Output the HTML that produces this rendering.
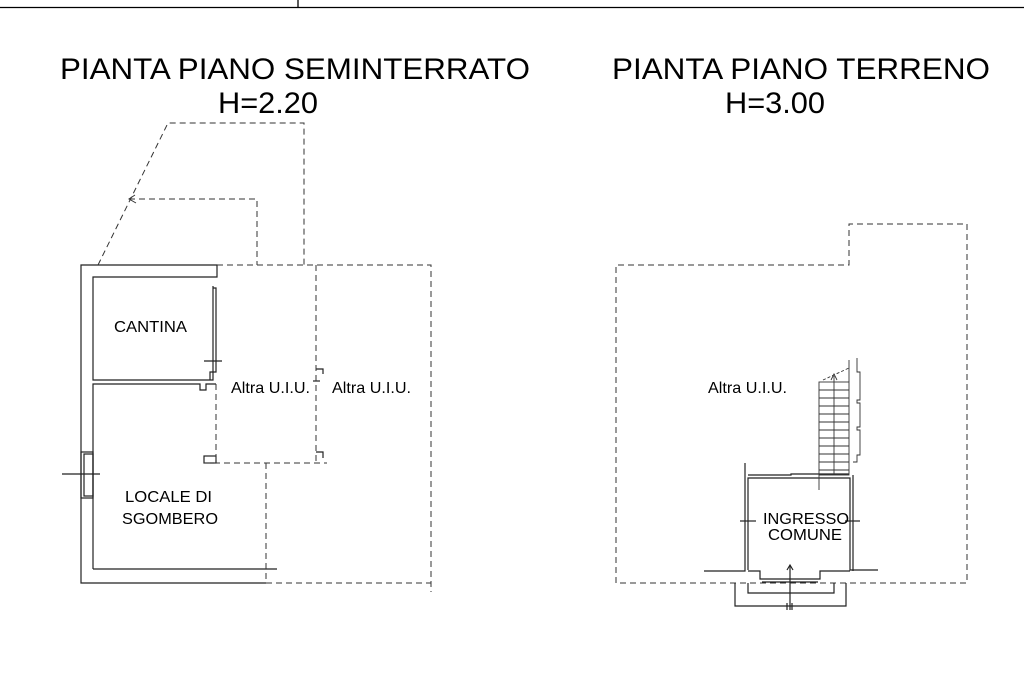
<!DOCTYPE html>
<html><head><meta charset="utf-8"><style>
html,body{margin:0;padding:0;background:#fff;}
svg{display:block;}
text{font-family:"Liberation Sans",sans-serif;fill:#000;}
</style></head><body>
<svg width="1024" height="682" viewBox="0 0 1024 682" xmlns="http://www.w3.org/2000/svg">
<g stroke="#000" stroke-width="1.3" fill="none">
<line x1="0" y1="7.5" x2="1024" y2="7.5"/>
<line x1="298" y1="0" x2="298" y2="7.5"/>
</g>
<text x="60" y="79" font-size="30" textLength="470" lengthAdjust="spacingAndGlyphs">PIANTA PIANO SEMINTERRATO</text>
<text x="218" y="113" font-size="30" textLength="100" lengthAdjust="spacingAndGlyphs">H=2.20</text>
<text x="612" y="79" font-size="30" textLength="378" lengthAdjust="spacingAndGlyphs">PIANTA PIANO TERRENO</text>
<text x="725" y="113" font-size="30" textLength="100" lengthAdjust="spacingAndGlyphs">H=3.00</text>

<!-- Left plan solid walls -->
<g stroke="#222" stroke-width="1.2" fill="none">
<polyline points="266,583 81,583 81,265 217,265 217,277 93,277 93,380 213,380 213,286"/>
<polyline points="93,569 277,569"/>
<polyline points="93,569 93,384 200,384 200,390 206,390 206,384 216,384"/>
<polyline points="213,288 216,288 216,372 210,372 210,380"/>
<line x1="204" y1="361" x2="222" y2="361"/>
<rect x="204" y="456" width="12" height="7"/>
<rect x="81" y="452" width="12" height="46"/>
<rect x="84" y="454" width="9" height="42"/>
<line x1="62" y1="474" x2="100" y2="474"/>
<polyline points="316,369 323,369 323,374"/>
<polyline points="316,452 323,452 323,458"/>
<line x1="313" y1="381" x2="320" y2="381"/>
</g>
<g stroke="#333" stroke-width="1" fill="none" stroke-dasharray="6,4">
<polyline points="217,265 431,265 431,592"/>
<polyline points="266,583 431,583"/>
<polyline points="266,463 266,583"/>
<polyline points="204,463 327,463"/>
<polyline points="216,384 216,463"/>
<polyline points="316,265 316,463"/>
<polyline points="98,265 168,123 304,123 304,265"/>
<polyline points="129,199 257,199 257,265"/>
</g>
<polyline points="135,195 129,199 136,203" stroke="#333" stroke-width="1" fill="none"/>
<text x="114" y="332" font-size="16" textLength="73" lengthAdjust="spacingAndGlyphs">CANTINA</text>
<text x="231" y="393" font-size="16" textLength="79" lengthAdjust="spacingAndGlyphs">Altra U.I.U.</text>
<text x="332" y="393" font-size="16" textLength="79" lengthAdjust="spacingAndGlyphs">Altra U.I.U.</text>
<text x="125" y="502" font-size="16" textLength="87" lengthAdjust="spacingAndGlyphs">LOCALE DI</text>
<text x="122" y="524" font-size="16" textLength="96" lengthAdjust="spacingAndGlyphs">SGOMBERO</text>

<!-- Right plan -->
<g stroke="#333" stroke-width="1" fill="none" stroke-dasharray="6,4">
<polyline points="616,583 616,265 849,265 849,224 967,224 967,583 616,583"/>
</g>
<g stroke="#222" stroke-width="1.2" fill="none">
<polyline points="704,571 745,571 745,463"/>
<polyline points="748,570 748,478 850,478 850,570 878,570"/>
<polyline points="748,475 791,475 791,474 849,474"/>
<polyline points="853,571 853,475"/>
<polyline points="748,571 760,571 760,579 820,579 820,571 850,571"/>
<line x1="762" y1="582" x2="818" y2="582"/>
<polyline points="735,583 735,606 846,606 846,583"/>
<polyline points="748,583 748,593 834,593 834,583"/>
<line x1="790" y1="565" x2="790" y2="610"/>
<polyline points="787,570 790,565 793,570"/>
<line x1="740" y1="521" x2="756" y2="521"/>
<line x1="845" y1="521" x2="860" y2="521"/>
<line x1="787" y1="603" x2="787" y2="610"/>
<line x1="792" y1="603" x2="792" y2="610"/>
</g>
<g stroke="#333" stroke-width="0.9" fill="none">
<rect x="819" y="382" width="30" height="93"/>
<line x1="834" y1="376" x2="834" y2="475"/>
<line x1="819" y1="475" x2="819" y2="490"/>
<line x1="819" y1="390" x2="849" y2="390"/>
<line x1="819" y1="398" x2="849" y2="398"/>
<line x1="819" y1="406" x2="849" y2="406"/>
<line x1="819" y1="414" x2="849" y2="414"/>
<line x1="819" y1="422" x2="849" y2="422"/>
<line x1="819" y1="430" x2="849" y2="430"/>
<line x1="819" y1="438" x2="849" y2="438"/>
<line x1="819" y1="446" x2="849" y2="446"/>
<line x1="819" y1="454" x2="849" y2="454"/>
<line x1="819" y1="462" x2="849" y2="462"/>
<line x1="819" y1="470" x2="849" y2="470"/>
<polyline points="849,382 849,360"/>
<line x1="823" y1="380" x2="849" y2="368" stroke-dasharray="3,2"/>
<polyline points="831,380 834,374 837,380"/>
<polyline points="857,358 857,372 860,372 860,400 857,400 857,403 860,403 860,427 857,427 857,430 860,430 860,455 857,455 857,462 853,462"/>
</g>
<text x="708" y="393" font-size="16" textLength="79" lengthAdjust="spacingAndGlyphs">Altra U.I.U.</text>
<text x="763" y="524" font-size="16" textLength="86" lengthAdjust="spacingAndGlyphs">INGRESSO</text>
<text x="768" y="540" font-size="16" textLength="74" lengthAdjust="spacingAndGlyphs">COMUNE</text>
</svg>
</body></html>
